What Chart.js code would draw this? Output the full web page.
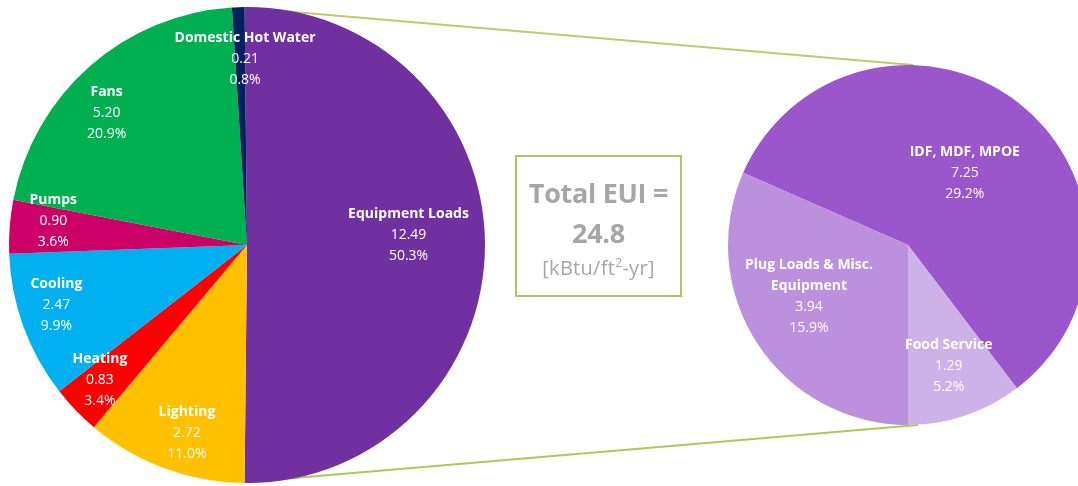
<!DOCTYPE html>
<html>
<head>
<meta charset="utf-8">
<script src="https://cdn.jsdelivr.net/npm/chart.js@4.4.1/dist/chart.umd.min.js"></script>
<style>
  html, body { margin: 0; padding: 0; background: #fff; overflow: hidden; }
  body { width: 1078px; height: 486px; position: relative; font-family: "Open Sans", Lato, sans-serif; }
  canvas { position: absolute; }
  #links { left: 0; top: 0; }
  #mainPie { left: 0; top: 0; }
  #subPie { left: 718px; top: 55px; }
  .eui-box {
    position: absolute; left: 515px; top: 155px; width: 163px; height: 138px;
    border: 2px solid #abc961; color: #a6a6a6; text-align: center;
  }
  .eui-box .big { font-size: 27px; font-weight: 700; line-height: 40px; letter-spacing: -0.3px; }
  .eui-box .big.first { margin-top: 16px; }
  .eui-box .unit { font-size: 20px; line-height: 30px; letter-spacing: 0.3px; }
  .eui-box sup { font-size: 12px; line-height: 0; }
</style>
</head>
<body>
<canvas id="links" width="1078" height="486"></canvas>
<canvas id="mainPie" width="494" height="490"></canvas>
<canvas id="subPie" width="380" height="380"></canvas>
<div class="eui-box">
  <div class="big first">Total EUI =</div>
  <div class="big" id="euiTotal"></div>
  <div class="unit">[kBtu/ft<sup>2</sup>-yr]</div>
</div>
<script>
// end uses, kBtu/ft2-yr
const endUses = ['Equipment Loads', 'Lighting', 'Heating', 'Cooling', 'Pumps', 'Fans', 'Domestic Hot Water'];
const endUseValues = [12.49, 2.72, 0.83, 2.47, 0.90, 5.20, 0.21];
const endUsePct = ['50.3%', '11.0%', '3.4%', '9.9%', '3.6%', '20.9%', '0.8%'];
const endUseColors = ['#7030a0', '#ffc000', '#ff0000', '#00b0f0', '#cc0066', '#00b050', '#002060'];

// breakdown of equipment loads
const equipParts = ['IDF, MDF, MPOE', 'Food Service', 'Plug Loads & Misc.\nEquipment'];
const equipValues = [7.25, 1.29, 3.94];
const equipPct = ['29.2%', '5.2%', '15.9%'];
const equipColors = ['#9a56ca', '#cdb2e9', '#bb90dd'];

// label placement: fraction of radius, plus a small turn (deg) off the slice middle
const mainLabelPos = [0.68, 0.83, 0.84, 0.84, 0.82, 0.81, 0.78];
const mainLabelTurn = [-3.6, -2.6, 1.3, 2.5, 2.6, -5.4, 1.5];
const subLabelPos = [0.51, 0.71, 0.62];
const subLabelTurn = [0, 0, 5.7];

const FONT = '"Open Sans", Lato, sans-serif';

const sliceLabels = {
  id: 'sliceLabels',
  afterDatasetsDraw(chart, args, opts) {
    const ctx = chart.ctx;
    const meta = chart.getDatasetMeta(0);
    const names = chart.data.labels;
    const values = chart.data.datasets[0].data;
    ctx.save();
    ctx.fillStyle = '#fff';
    ctx.textAlign = 'center';
    ctx.textBaseline = 'middle';
    meta.data.forEach((arc, i) => {
      const p = arc.getProps(['x', 'y', 'startAngle', 'endAngle', 'outerRadius'], true);
      const mid = (p.startAngle + p.endAngle) / 2 + opts.turn[i] * Math.PI / 180;
      const r = p.outerRadius * opts.pos[i];
      const cx = p.x + Math.cos(mid) * r;
      const cy = p.y + Math.sin(mid) * r;
      const lines = names[i].split('\n').map(t => ({ t, bold: true }));
      lines.push({ t: values[i].toFixed(2), bold: false });
      lines.push({ t: opts.pct[i], bold: false });
      const lh = 21;
      let y = cy - (lines.length - 1) * lh / 2;
      lines.forEach(l => {
        ctx.font = (l.bold ? '700 ' : '400 ') + '14px ' + FONT;
        ctx.fillText(l.t, cx, y);
        y += lh;
      });
    });
    ctx.restore();
  }
};

const baseOptions = {
  responsive: false,
  animation: false,
  events: [],
  plugins: { legend: { display: false }, tooltip: { enabled: false } }
};

const total = endUseValues.reduce((a, b) => a + b, 0);
// equipment slice sits centred on the right-hand side
const equipShare = endUseValues[0] / total;

const mainChart = new Chart(document.getElementById('mainPie'), {
  type: 'pie',
  data: {
    labels: endUses,
    datasets: [{ data: endUseValues, backgroundColor: endUseColors, borderWidth: 0 }]
  },
  options: {
    ...baseOptions,
    radius: 238,
    rotation: -(equipShare * 360 - 180) / 2,
    plugins: { ...baseOptions.plugins, sliceLabels: { pos: mainLabelPos, turn: mainLabelTurn, pct: endUsePct } }
  },
  plugins: [sliceLabels]
});

// second pie turned so the food service slice starts at six o'clock
const plugShare = equipValues[2] / equipValues.reduce((a, b) => a + b, 0);
const subChart = new Chart(document.getElementById('subPie'), {
  type: 'pie',
  data: {
    labels: equipParts,
    datasets: [{ data: equipValues, backgroundColor: equipColors, borderWidth: 0 }]
  },
  options: {
    ...baseOptions,
    radius: 180,
    rotation: 180 + 360 * plugShare,
    plugins: { ...baseOptions.plugins, sliceLabels: { pos: subLabelPos, turn: subLabelTurn, pct: equipPct } }
  },
  plugins: [sliceLabels]
});

document.getElementById('euiTotal').textContent = total.toFixed(1);

// connector lines between the two pies
function pieGeom(chart, canvasId) {
  const arc = chart.getDatasetMeta(0).data[0];
  const el = document.getElementById(canvasId);
  return { x: arc.x + el.offsetLeft, y: arc.y + el.offsetTop, r: arc.outerRadius };
}
const a = pieGeom(mainChart, 'mainPie');
const b = pieGeom(subChart, 'subPie');
const lctx = document.getElementById('links').getContext('2d');
lctx.lineWidth = 2;
lctx.strokeStyle = '#c3c86c';
lctx.beginPath();
lctx.moveTo(a.x, a.y - a.r + 1);
lctx.lineTo(b.x + 5, b.y - b.r);
lctx.stroke();
lctx.strokeStyle = '#a9cb55';
lctx.beginPath();
lctx.moveTo(a.x, a.y + a.r - 1);
lctx.lineTo(b.x + 10, b.y + b.r);
lctx.stroke();
</script>
</body>
</html>
